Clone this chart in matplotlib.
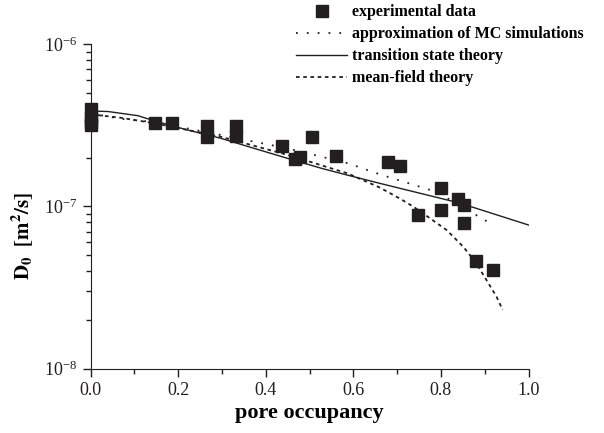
import matplotlib
matplotlib.use("Agg")
import matplotlib.pyplot as plt
from matplotlib.ticker import MultipleLocator, LogLocator, NullFormatter

plt.rcParams["font.family"] = ["Liberation Serif", "DejaVu Serif"]
plt.rcParams["mathtext.fontset"] = "stix"

# experimental data (pore occupancy, D0 in m^2/s)
exp_x = [0.0, 0.0, 0.0, 0.0, 0.147, 0.185, 0.265, 0.265, 0.331, 0.331,
         0.438, 0.466, 0.479, 0.506, 0.560, 0.680, 0.706, 0.747, 0.800,
         0.800, 0.839, 0.853, 0.853, 0.879, 0.919]
exp_y = [4.0e-7, 3.5e-7, 3.3e-7, 3.2e-7, 3.29e-7, 3.26e-7, 3.15e-7, 2.69e-7,
         3.15e-7, 2.72e-7, 2.37e-7, 1.95e-7, 2.03e-7, 2.68e-7, 2.04e-7,
         1.89e-7, 1.78e-7, 8.87e-8, 1.30e-7, 9.5e-8, 1.12e-7, 1.02e-7,
         7.94e-8, 4.6e-8, 4.08e-8]

# approximation of MC simulations
mc_x = [0.0, 0.07, 0.146, 0.298, 0.450, 0.587, 0.660, 0.790, 0.919]
mc_y = [3.75e-7, 3.47e-7, 3.31e-7, 2.76e-7, 2.28e-7, 1.85e-7, 1.58e-7,
        1.23e-7, 7.69e-8]

# transition state theory
ts_x = [0.0, 0.04, 0.108, 0.146, 0.222, 0.298, 0.374, 0.450, 0.527, 0.587,
        0.660, 0.843, 1.0]
ts_y = [3.88e-7, 3.85e-7, 3.63e-7, 3.37e-7, 2.96e-7, 2.63e-7, 2.28e-7,
        1.98e-7, 1.72e-7, 1.56e-7, 1.39e-7, 1.05e-7, 7.69e-8]

# mean-field theory
mf_x = [0.0, 0.07, 0.146, 0.298, 0.450, 0.587, 0.660, 0.706, 0.737, 0.775,
        0.813, 0.851, 0.881, 0.904, 0.927, 0.941]
mf_y = [3.70e-7, 3.52e-7, 3.26e-7, 2.69e-7, 2.08e-7, 1.60e-7, 1.31e-7,
        1.12e-7, 9.98e-8, 8.46e-8, 7.16e-8, 5.65e-8, 4.46e-8, 3.52e-8,
        2.78e-8, 2.30e-8]

fig = plt.figure(figsize=(6.04, 4.33), dpi=100)
ax = fig.add_axes([0.150, 0.1485, 0.725, 0.7492])

c = "#231f20"
ax.plot(exp_x, exp_y, "s", color=c, markersize=8, label="experimental data",
        zorder=3, clip_on=False)
ax.plot(mc_x, mc_y, color=c, lw=1.3, linestyle=(0, (1, 5)),
        label="approximation of MC simulations")
ax.plot(ts_x, ts_y, color=c, lw=1.0, label="transition state theory")
ax.plot(mf_x, mf_y, color=c, lw=1.3, linestyle=(0, (2, 2)),
        label="mean-field theory")

ax.set_yscale("log")
ax.set_xlim(0, 1.0)
ax.set_ylim(1e-8, 1e-6)
ax.xaxis.set_major_locator(MultipleLocator(0.2))
ax.xaxis.set_minor_locator(MultipleLocator(0.1))
ax.xaxis.set_major_formatter(plt.FuncFormatter(lambda v, p: f"{v:.1f}"))
ax.yaxis.set_major_locator(LogLocator(base=10, numticks=5))
ax.yaxis.set_minor_locator(LogLocator(base=10, subs=range(2, 10), numticks=20))
ax.yaxis.set_minor_formatter(NullFormatter())

for s in ["top", "right"]:
    ax.spines[s].set_visible(False)
for s in ["left", "bottom"]:
    ax.spines[s].set_color(c)
ax.tick_params(which="major", direction="out", length=6, width=1, colors=c,
               labelsize=13)
ax.tick_params(which="minor", direction="out", length=3.5, width=1, colors=c)

ax.set_xlabel("pore occupancy", fontsize=16, fontweight="bold", labelpad=3)
ax.set_ylabel(r"$\mathbf{D_0\ \ [m^2/s]}$", fontsize=15)
ax.yaxis.set_label_coords(-0.127, 0.41)

fig.legend(loc="upper left", bbox_to_anchor=(0.48, 1.005), frameon=False,
           prop={"weight": "bold", "size": 11.5}, handlelength=3.2,
           handletextpad=0.3, labelspacing=0.38, borderaxespad=0)

fig.savefig("out.png", dpi=100)
